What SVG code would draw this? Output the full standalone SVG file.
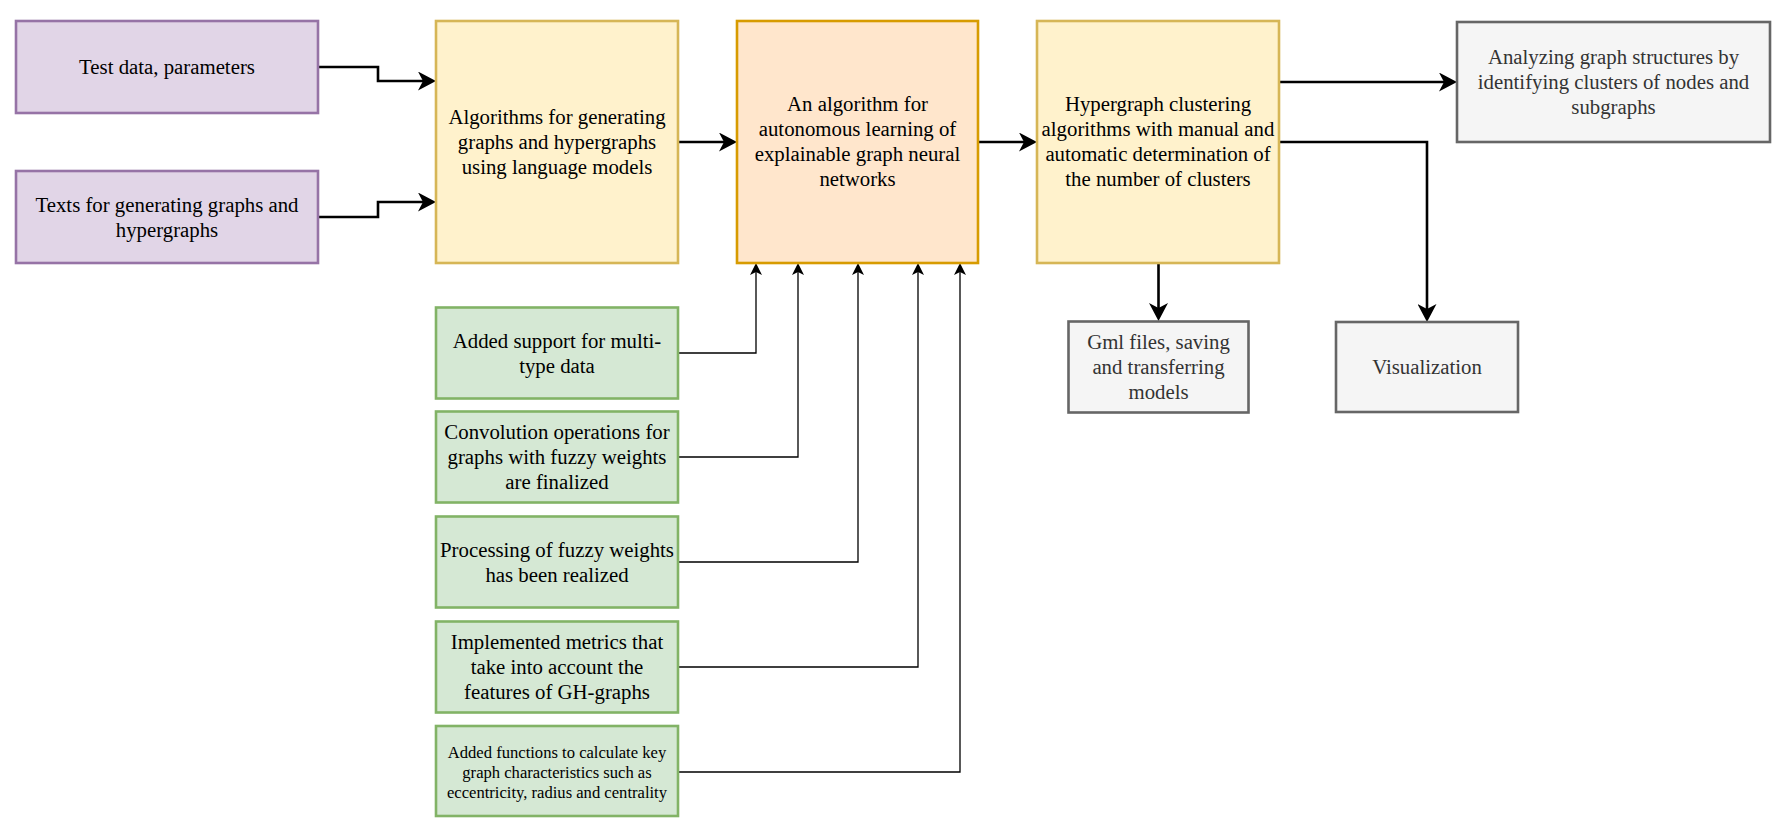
<svg xmlns="http://www.w3.org/2000/svg" width="1773" height="820" viewBox="0 0 1773 820">
<style>
  .box { stroke-width: 2.6; }
  .purple { fill: #e1d5e7; stroke: #9673a6; }
  .yellow { fill: #fff2cc; stroke: #d6b656; }
  .orange { fill: #ffe6cc; stroke: #d79b00; }
  .green { fill: #d5e8d4; stroke: #82b366; }
  .gray { fill: #f5f5f5; stroke: #666666; }
  .lbl { font-family: 'Liberation Serif', 'Times New Roman', Times, 'DejaVu Serif', serif; font-size: 20.8px; fill: #000000; text-anchor: middle; }
  .lbl .g, .g { fill: #333333; }
  .small { font-size: 16.6px; }
  .thick { fill: none; stroke: #000; stroke-width: 2.6; marker-end: url(#arrowBig); }
  .thin { fill: none; stroke: #000; stroke-width: 1.3; marker-end: url(#arrowSmall); }
</style>
<defs>
  <marker id="arrowBig" viewBox="0 0 18 19" markerWidth="18" markerHeight="19" refX="10" refY="9.5" orient="auto" markerUnits="userSpaceOnUse">
    <path d="M0,0 L18,9.5 L0,19 L5,9.5 Z" fill="#000"/>
  </marker>
  <marker id="arrowSmall" viewBox="0 0 12 12" markerWidth="12" markerHeight="12" refX="6" refY="6" orient="auto" markerUnits="userSpaceOnUse">
    <path d="M0,0 L12,6 L0,12 L3,6 Z" fill="#000"/>
  </marker>
</defs>
<rect width="1773" height="820" fill="#ffffff"/>

<g id="connectors">
  <path class="thick" d="M318,67 H378 V81 H428"/>
  <path class="thick" d="M318,217 H378 V202 H428"/>
  <path class="thick" d="M678,142 H729"/>
  <path class="thick" d="M978,142 H1029"/>
  <path class="thick" d="M1279,82 H1449"/>
  <path class="thick" d="M1279,142 H1427 V314"/>
  <path class="thick" d="M1158.5,263 V313"/>
  <path class="thin" d="M678,353 H756 V269"/>
  <path class="thin" d="M678,457 H798 V269"/>
  <path class="thin" d="M678,562 H858 V269"/>
  <path class="thin" d="M678,667 H918 V269"/>
  <path class="thin" d="M678,772 H960 V269"/>
</g>

<g id="nodes" class="lbl" font-family="'Liberation Serif', 'Times New Roman', serif">
<g id="test-data">
  <rect class="box purple" x="16" y="21" width="302" height="92"/>
  <text x="167" y="74">Test data, parameters</text>
</g>
<g id="texts-input">
  <rect class="box purple" x="16" y="171" width="302" height="92"/>
  <text x="167" y="211.5">Texts for generating graphs and</text>
  <text x="167" y="236.5">hypergraphs</text>
</g>
<g id="gen-algorithms">
  <rect class="box yellow" x="436" y="21" width="242" height="242"/>
  <text x="557" y="123.5">Algorithms for generating</text>
  <text x="557" y="148.5">graphs and hypergraphs</text>
  <text x="557" y="173.5">using language models</text>
</g>
<g id="autonomous-learning">
  <rect class="box orange" x="737" y="21" width="241" height="242"/>
  <text x="857.5" y="110.5">An algorithm for</text>
  <text x="857.5" y="135.5">autonomous learning of</text>
  <text x="857.5" y="160.5">explainable graph neural</text>
  <text x="857.5" y="185.5">networks</text>
</g>
<g id="clustering">
  <rect class="box yellow" x="1037" y="21" width="242" height="242"/>
  <text x="1158" y="110.5">Hypergraph clustering</text>
  <text x="1158" y="135.5">algorithms with manual and</text>
  <text x="1158" y="160.5">automatic determination of</text>
  <text x="1158" y="185.5">the number of clusters</text>
</g>
<g id="analyzing">
  <rect class="box gray" x="1457" y="22" width="313" height="120"/>
  <text class="g" x="1613.5" y="63.5">Analyzing graph structures by</text>
  <text class="g" x="1613.5" y="88.5">identifying clusters of nodes and</text>
  <text class="g" x="1613.5" y="113.5">subgraphs</text>
</g>
<g id="gml-files">
  <rect class="box gray" x="1068.5" y="321.5" width="180" height="91"/>
  <text class="g" x="1158.5" y="348.5">Gml files, saving</text>
  <text class="g" x="1158.5" y="373.5">and transferring</text>
  <text class="g" x="1158.5" y="398.5">models</text>
</g>
<g id="visualization">
  <rect class="box gray" x="1336" y="322" width="182" height="90"/>
  <text class="g" x="1427" y="373.5">Visualization</text>
</g>
<g id="multi-type">
  <rect class="box green" x="436" y="307.5" width="242" height="91"/>
  <text x="557" y="347.5">Added support for multi-</text>
  <text x="557" y="372.5">type data</text>
</g>
<g id="convolution">
  <rect class="box green" x="436" y="411.5" width="242" height="91"/>
  <text x="557" y="439">Convolution operations for</text>
  <text x="557" y="464">graphs with fuzzy weights</text>
  <text x="557" y="489">are finalized</text>
</g>
<g id="fuzzy-weights">
  <rect class="box green" x="436" y="516.5" width="242" height="91"/>
  <text x="557" y="556.5">Processing of fuzzy weights</text>
  <text x="557" y="581.5">has been realized</text>
</g>
<g id="metrics">
  <rect class="box green" x="436" y="621.5" width="242" height="91"/>
  <text x="557" y="648.5">Implemented metrics that</text>
  <text x="557" y="673.5">take into account the</text>
  <text x="557" y="698.5">features of GH-graphs</text>
</g>
<g id="functions">
  <rect class="box green" x="436" y="726" width="242" height="90"/>
  <text class="small" x="557" y="757.5">Added functions to calculate key</text>
  <text class="small" x="557" y="777.5">graph characteristics such as</text>
  <text class="small" x="557" y="797.5">eccentricity, radius and centrality</text>
</g>
</g>
</svg>
